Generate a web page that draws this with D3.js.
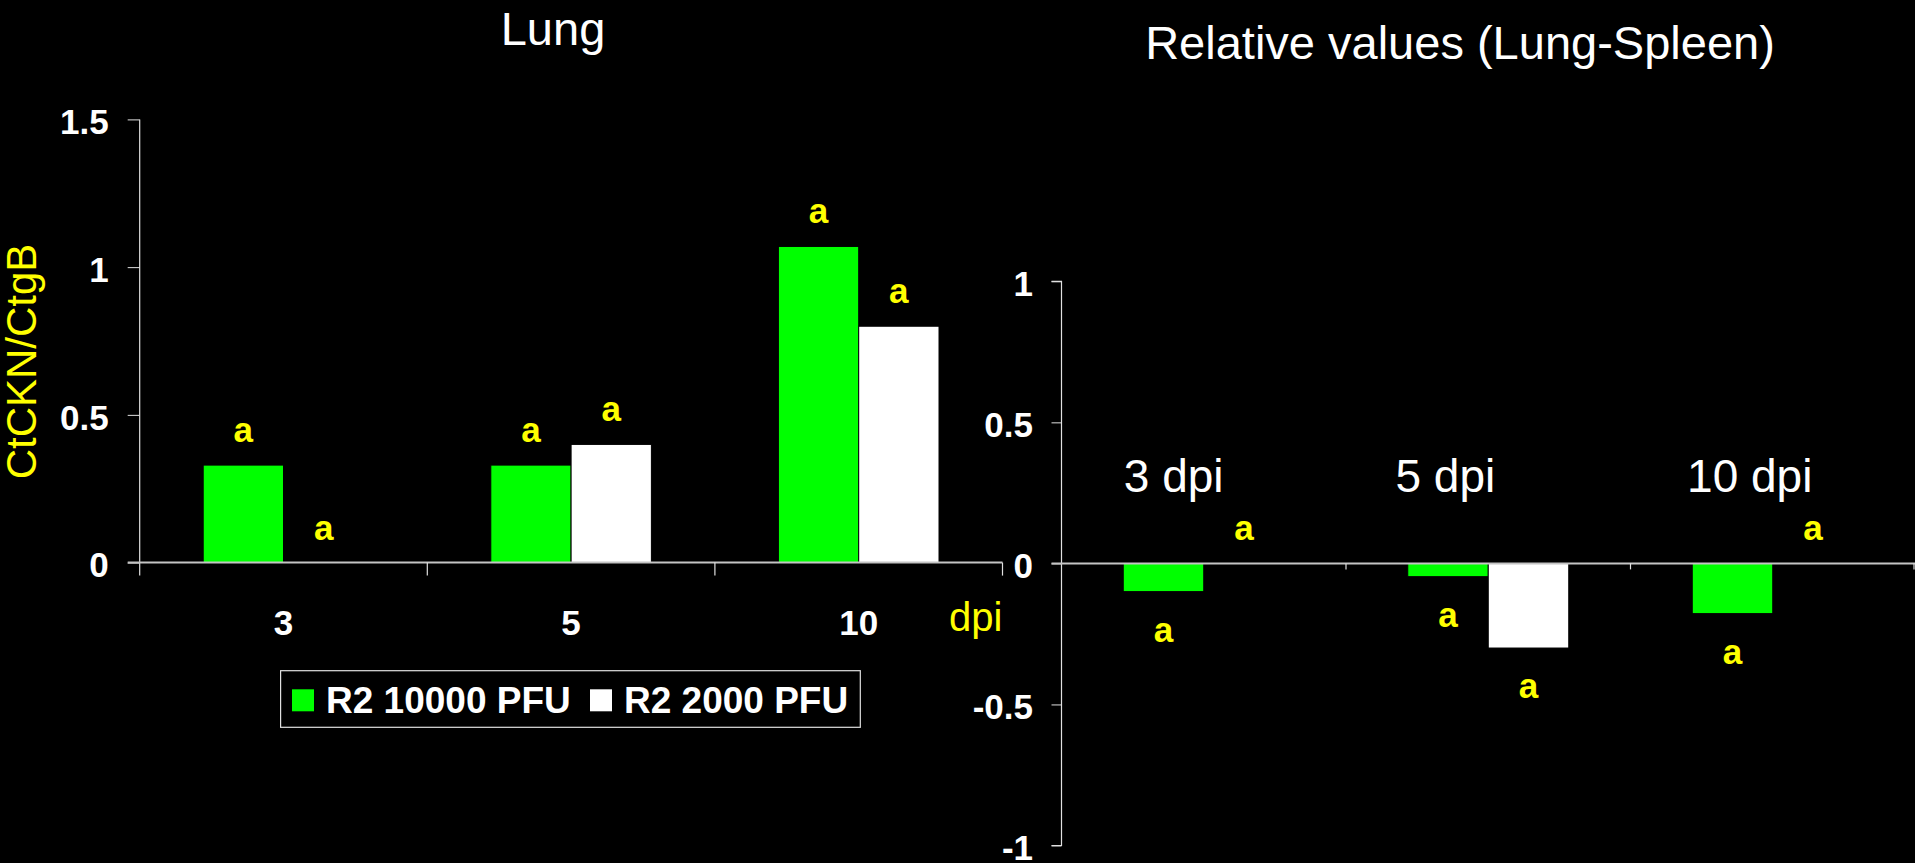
<!DOCTYPE html>
<html>
<head>
<meta charset="utf-8">
<script src="https://cdn.jsdelivr.net/npm/d3@7"></script>
<style>
  html, body { margin: 0; padding: 0; background: #000; }
  svg { display: block; }
  text { font-family: "Liberation Sans", Arial, sans-serif; }
</style>
</head>
<body>
<svg id="chart" width="1915" height="863"></svg>
<script>
// Lung panel: CtCKN/CtgB ratio per day post infection
const days = ["3", "5", "10"];
const seriesNames = ["R2 10000 PFU", "R2 2000 PFU"];
const lungHigh = [0.33, 0.33, 1.07];   // R2 10000 PFU
const lungLow  = [0.0, 0.40, 0.80];    // R2 2000 PFU
const lungTicks = [0, 0.5, 1, 1.5];

// Relative panel: Lung minus Spleen
const relDays = ["3 dpi", "5 dpi", "10 dpi"];
const relHigh = [-0.10, -0.047, -0.178];
const relLow  = [0.0, -0.30, 0.0];
const relTicks = [-1, -0.5, 0, 0.5, 1];

// significance letters per bar
const lungLetters = [["a", "a", "a"], ["a", "a", "a"]];
const relLetters  = [["a", "a", "a"], ["a", "a", "a"]];

const GREEN = "#00ff00", WHITE = "#ffffff", YELLOW = "#ffff00";
const AXIS = "#e0e0e0", ZERO = "#c4c4c4";
const svg = d3.select("#chart");
const fmt = d => String(d);

function barPanel(opts) {
  const { cats, high, low, letters, yScale, xScale, barW } = opts;
  const g = svg.append("g");
  const rows = cats.map((c, i) => ({ c, i, vals: [high[i], low[i]] }));
  rows.forEach(r => {
    const cx = xScale(r.c) + xScale.bandwidth() / 2;
    r.vals.forEach((v, s) => {
      const x0 = s === 0 ? cx - barW : cx;
      const y0 = yScale(Math.max(0, v)), y1 = yScale(Math.min(0, v));
      if (Math.abs(v) > 0) {
        g.append("rect")
          .attr("x", x0).attr("y", y0)
          .attr("width", barW).attr("height", y1 - y0)
          .attr("fill", s === 0 ? GREEN : WHITE)
          .attr("stroke", "#000").attr("stroke-width", 1);
      }
      const ly = v < 0 ? yScale(v) + 50 : yScale(v) - 23;
      g.append("text")
        .attr("x", x0 + barW / 2).attr("y", ly)
        .attr("text-anchor", "middle")
        .attr("fill", YELLOW).attr("font-weight", "bold").attr("font-size", 35)
        .text(letters[s][r.i]);
    });
  });
  return g;
}

// ---------- Lung panel ----------
const xL = d3.scaleBand().domain(days).range([139.7, 1002.5]).padding(0);
const yL = d3.scaleLinear().domain([0, 1.5]).range([562.6, 119.4]);

// y axis
const yAxisL = svg.append("g").attr("transform", `translate(${xL.range()[0]},0)`)
  .call(d3.axisLeft(yL).tickValues(lungTicks).tickSize(12).tickPadding(19).tickFormat(fmt));
yAxisL.select(".domain").remove();
yAxisL.selectAll(".tick line").attr("stroke", AXIS);
yAxisL.selectAll(".tick text").attr("fill", WHITE).attr("font-size", 35)
  .attr("font-weight", "bold").attr("font-family", "Liberation Sans, Arial, sans-serif")
  .attr("dy", "0.41em");
svg.append("line").attr("x1", xL.range()[0]).attr("x2", xL.range()[0])
  .attr("y1", yL(1.5)).attr("y2", yL(0) + 13).attr("stroke", AXIS).attr("stroke-width", 1.2);

barPanel({ cats: days, high: lungHigh, low: lungLow, letters: lungLetters,
  yScale: yL, xScale: xL, barW: 80.3 });

// x axis line and category boundary ticks
svg.append("line").attr("x1", xL.range()[0] - 12).attr("x2", xL.range()[1])
  .attr("y1", yL(0)).attr("y2", yL(0)).attr("stroke", ZERO).attr("stroke-width", 2);
const boundsL = days.map(d => xL(d)).concat([xL.range()[1]]);
svg.selectAll(".bL").data(boundsL.slice(1)).enter().append("line")
  .attr("x1", d => d).attr("x2", d => d)
  .attr("y1", yL(0)).attr("y2", yL(0) + 13).attr("stroke", AXIS).attr("stroke-width", 1.2);
// category labels
const xAxisL = svg.append("g").attr("transform", `translate(0,${yL(0)})`)
  .call(d3.axisBottom(xL).tickSize(0).tickPadding(0));
xAxisL.select(".domain").remove();
xAxisL.selectAll(".tick text").attr("fill", WHITE).attr("font-size", 35)
  .attr("font-weight", "bold").attr("font-family", "Liberation Sans, Arial, sans-serif")
  .attr("dy", null).attr("y", 72);

svg.append("text").attr("x", 949).attr("y", 631).attr("fill", YELLOW)
  .attr("font-size", 40).text("dpi");

svg.append("text").attr("transform", "translate(36,361.5) rotate(-90)")
  .attr("text-anchor", "middle").attr("fill", YELLOW).attr("font-size", 42)
  .text("CtCKN/CtgB");

svg.append("text").attr("x", 553).attr("y", 45).attr("text-anchor", "middle")
  .attr("fill", WHITE).attr("font-size", 47).text("Lung");

// legend
const leg = svg.append("g");
leg.append("rect").attr("x", 280.6).attr("y", 670.7).attr("width", 579.7).attr("height", 56.6)
  .attr("fill", "#000").attr("stroke", AXIS).attr("stroke-width", 1.2);
const legX = [292, 590];
seriesNames.forEach((n, i) => {
  leg.append("rect").attr("x", legX[i]).attr("y", 689.3).attr("width", 22).attr("height", 22)
    .attr("fill", i === 0 ? GREEN : WHITE);
  leg.append("text").attr("x", legX[i] + 34).attr("y", 713).attr("fill", WHITE)
    .attr("font-size", 37).attr("font-weight", "bold").text(n);
});

// ---------- Relative panel ----------
const xR = d3.scaleBand().domain(relDays).range([1061.5, 1915]).padding(0);
const yR = d3.scaleLinear().domain([-1, 1]).range([845.5, 281.3]);

const yAxisR = svg.append("g").attr("transform", `translate(${xR.range()[0]},0)`)
  .call(d3.axisLeft(yR).tickValues(relTicks).tickSize(10).tickPadding(18.5).tickFormat(fmt));
yAxisR.select(".domain").attr("stroke", AXIS).attr("stroke-width", 1.2)
  .attr("d", `M-10,${yR(1)}H0V${yR(-1)}H-10`);
yAxisR.selectAll(".tick line").attr("stroke", AXIS);
yAxisR.selectAll(".tick text").attr("fill", WHITE).attr("font-size", 35)
  .attr("font-weight", "bold").attr("font-family", "Liberation Sans, Arial, sans-serif")
  .attr("dy", "0.41em");

barPanel({ cats: relDays, high: relHigh, low: relLow, letters: relLetters,
  yScale: yR, xScale: xR, barW: 80.5 });

svg.append("line").attr("x1", xR.range()[0] - 10).attr("x2", xR.range()[1])
  .attr("y1", yR(0)).attr("y2", yR(0)).attr("stroke", ZERO).attr("stroke-width", 2);
const boundsR = relDays.map(d => xR(d)).slice(1).concat([xR.range()[1] - 1]);
svg.selectAll(".bR").data(boundsR).enter().append("line")
  .attr("x1", d => d).attr("x2", d => d)
  .attr("y1", yR(0)).attr("y2", yR(0) + 6).attr("stroke", AXIS).attr("stroke-width", 1.2);

// day captions above the relative bars
const capShift = [0.6, -12.3, -5.2];
relDays.forEach((d, i) => {
  const cx = xR(d) + xR.bandwidth() / 2;
  svg.append("text").attr("x", cx - 80.5 + capShift[i]).attr("y", 492)
    .attr("fill", WHITE).attr("font-size", 46).text(d);
});

svg.append("text").attr("x", 1460).attr("y", 59).attr("text-anchor", "middle")
  .attr("fill", WHITE).attr("font-size", 47).text("Relative values (Lung-Spleen)");
</script>
</body>
</html>
